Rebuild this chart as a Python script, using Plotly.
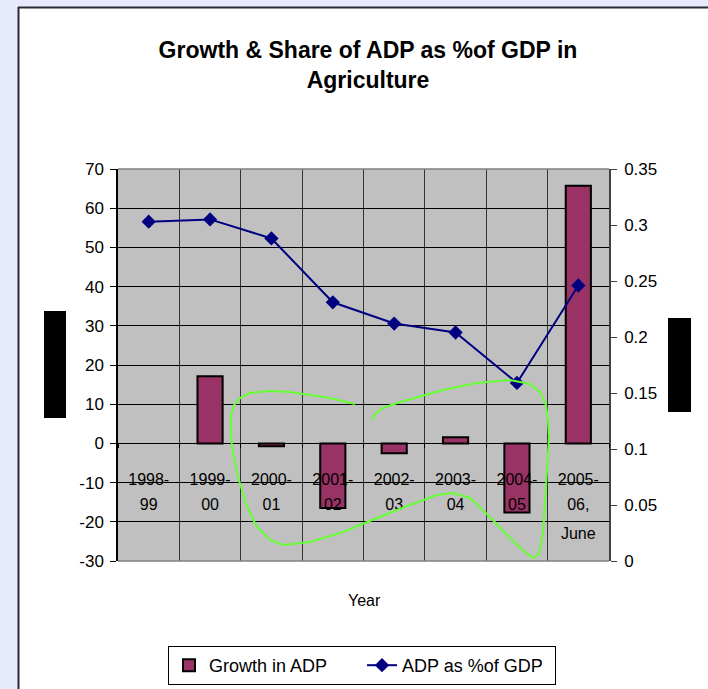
import plotly.graph_objects as go

# ---------------- data ----------------
categories = ["1998-99", "1999-00", "2000-01", "2001-02", "2002-03", "2003-04", "2004-05", "2005-06, June"]
label_line1 = ["1998-", "1999-", "2000-", "2001-", "2002-", "2003-", "2004-", "2005-"]
label_line2 = ["99", "00", "01", "02", "03", "04", "05", "06,"]
label_line3 = ["", "", "", "", "", "", "", "June"]
growth_in_adp = [None, 17.1, -0.7, -16.5, -2.5, 1.6, -17.6, 65.7]
adp_share_gdp = [0.303, 0.305, 0.288, 0.231, 0.212, 0.204, 0.159, 0.246]
left_tick_values = [-30, -20, -10, 0, 10, 20, 30, 40, 50, 60, 70]
left_tick_labels = ["-30", "-20", "-10", "0", "10", "20", "30", "40", "50", "60", "70"]

Y_LEFT_RANGE = [-30, 70]
Y_RIGHT_RANGE = [0, 0.35]

# ---------------- geometry (pixels) ----------------
W, H = 708, 689
ML, MR, MT, MB = 118, 99, 169, 128
PW = W - ML - MR
PH = H - MT - MB

def px(x):
    return (x - ML) / PW

def py(y):
    return (H - MB - y) / PH

FONT = "Liberation Sans, Arial, sans-serif"
X_POS = (0 - Y_LEFT_RANGE[0]) / (Y_LEFT_RANGE[1] - Y_LEFT_RANGE[0])
X_RANGE = [-0.5, len(categories) - 0.5]

fig = go.Figure()
fig.add_trace(go.Bar(
    x=categories, y=growth_in_adp, name="Growth in ADP",
    marker=dict(color="#993366", line=dict(color="black", width=2)),
    xaxis="x", yaxis="y",
))
fig.add_trace(go.Scatter(
    x=categories, y=adp_share_gdp, name="ADP as %of GDP",
    mode="lines+markers",
    line=dict(color="#000080", width=2),
    marker=dict(symbol="diamond", size=11, color="#000080"),
    xaxis="x2", yaxis="y2",
))
# empty helper trace so the third label row (x3) is drawn
fig.add_trace(go.Scatter(
    x=categories, y=[None] * len(categories), mode="markers",
    showlegend=False, hoverinfo="skip", xaxis="x3", yaxis="y",
))

common_x = dict(type="category", categoryorder="array", categoryarray=categories,
                range=X_RANGE, anchor="free", position=X_POS,
                tickmode="array", tickvals=categories)

fig.update_layout(
    width=W, height=H,
    margin=dict(l=ML, r=MR, t=MT, b=MB, autoexpand=False),
    paper_bgcolor="white",
    plot_bgcolor="#C0C0C0",
    font=dict(family=FONT, size=16, color="black"),
    bargap=0.59,
    showlegend=True,
    title=dict(
        text="Growth & Share of ADP as %of GDP in<br>Agriculture",
        font=dict(family=FONT, size=23, color="black", weight="bold"),
        x=px(368), xref="paper", xanchor="center",
        y=1 - 58 / H, yref="container", yanchor="middle",
    ),
    xaxis=dict(
        **common_x,
        ticktext=label_line1,
        tickson="boundaries",
        showgrid=True, gridcolor="#333333", gridwidth=1,
        ticks="outside", ticklen=4, tickcolor="black",
        showline=True, linecolor="black", linewidth=1,
        tickfont=dict(size=16),
        ticklabelstandoff=21,
        layer="above traces",
    ),
    xaxis2=dict(
        **common_x, overlaying="x",
        ticktext=label_line2,
        showgrid=False, ticks="", showline=False, zeroline=False,
        tickfont=dict(size=16),
        ticklabelstandoff=50,
    ),
    xaxis3=dict(
        **common_x, overlaying="x",
        ticktext=label_line3,
        showgrid=False, ticks="", showline=False, zeroline=False,
        tickfont=dict(size=16),
        ticklabelstandoff=79,
    ),
    yaxis=dict(
        range=Y_LEFT_RANGE,
        tickmode="array", tickvals=left_tick_values, ticktext=left_tick_labels,
        showgrid=True, gridcolor="black", gridwidth=1,
        zeroline=True, zerolinecolor="black", zerolinewidth=1,
        showline=True, linecolor="black", linewidth=1.5,
        ticks="outside", ticklen=6, tickcolor="black",
        tickfont=dict(size=17), ticklabelstandoff=3,
    ),
    yaxis2=dict(
        range=Y_RIGHT_RANGE, dtick=0.05, tick0=0,
        overlaying="y", side="right",
        showgrid=False, zeroline=False,
        showline=True, linecolor="#404040", linewidth=1.5,
        ticks="outside", ticklen=6, tickcolor="#404040",
        tickfont=dict(size=17), ticklabelstandoff=4,
    ),
    legend=dict(
        orientation="h", x=px(362), xanchor="center",
        y=py(646), yanchor="top",
        bordercolor="black", borderwidth=1, bgcolor="white",
        font=dict(size=18), traceorder="normal",
        entrywidth=148, entrywidthmode="pixels",
    ),
    annotations=[dict(
        text="Year", xref="paper", yref="paper", x=px(364), y=py(600),
        xanchor="center", yanchor="middle", showarrow=False,
        font=dict(size=16, family=FONT),
    )],
)

shapes = []
# page background strips and chart frame
shapes.append(dict(type="rect", xref="paper", yref="paper", layer="below",
                   x0=px(0), x1=px(18), y0=py(H), y1=py(0),
                   fillcolor="#E6EAFC", line=dict(width=0)))
shapes.append(dict(type="rect", xref="paper", yref="paper", layer="below",
                   x0=px(0), x1=px(W), y0=py(7), y1=py(0),
                   fillcolor="#E6EAFC", line=dict(width=0)))
shapes.append(dict(type="line", xref="paper", yref="paper",
                   x0=px(18.5), x1=px(18.5), y0=py(7), y1=py(H),
                   line=dict(color="#2A2A35", width=2)))
shapes.append(dict(type="line", xref="paper", yref="paper",
                   x0=px(18), x1=px(W), y0=py(7.5), y1=py(7.5),
                   line=dict(color="#2A2A35", width=2)))
# plot-area border (top/bottom)
shapes.append(dict(type="line", xref="paper", yref="paper",
                   x0=0, x1=1, y0=1, y1=1, line=dict(color="#808080", width=1.5)))
shapes.append(dict(type="line", xref="paper", yref="paper",
                   x0=0, x1=1, y0=0, y1=0, line=dict(color="#808080", width=1.5)))
# redaction boxes
shapes.append(dict(type="rect", xref="paper", yref="paper",
                   x0=px(44), x1=px(66), y0=py(418), y1=py(311),
                   fillcolor="black", line=dict(width=0)))
shapes.append(dict(type="rect", xref="paper", yref="paper",
                   x0=px(668), x1=px(691), y0=py(412), y1=py(318),
                   fillcolor="black", line=dict(width=0)))
# hand-drawn green loop
stroke = [(355, 404), (330, 398), (310, 395), (290, 392), (270, 391), (250, 393), (240, 398),
          (234, 405), (231, 415), (231, 430), (232, 447), (238, 477), (247, 507), (257, 527),
          (270, 540), (283, 545), (310, 542), (343, 532), (377, 518), (410, 505), (437, 495),
          (453, 493), (470, 498), (490, 517), (510, 538), (524, 551), (533, 558), (539, 554),
          (543, 533), (545, 503), (547, 470), (549, 437), (548, 420), (546, 405), (540, 392),
          (530, 384), (510, 380), (477, 383), (443, 390), (397, 403), (383, 408), (376, 413),
          (372, 420)]
path = "M " + " L ".join(f"{px(a):.4f},{py(b):.4f}" for a, b in stroke)
shapes.append(dict(type="path", xref="paper", yref="paper", path=path,
                   line=dict(color="#66FF33", width=2)))
fig.update_layout(shapes=shapes)

fig.write_html(
    "out.html",
    config={"displayModeBar": False},
    post_script="document.body.style.margin='0';document.body.style.overflow='hidden';",
)
